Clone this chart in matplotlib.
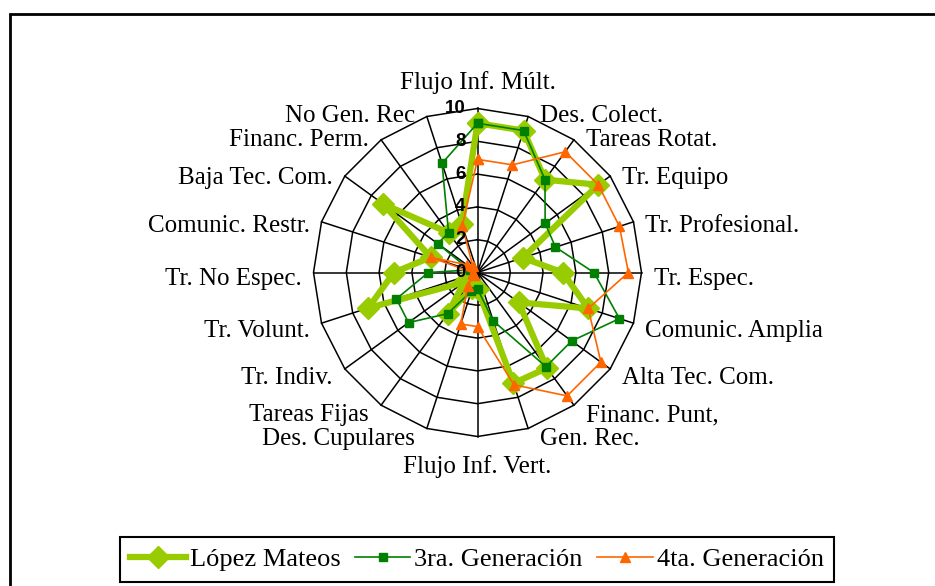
import numpy as np
import matplotlib.pyplot as plt
from matplotlib.patches import Rectangle

# Data (scale 0-10)
categories = ["Flujo Inf. Múlt.", "Des. Colect.", "Tareas Rotat.", "Tr. Equipo",
              "Tr. Profesional.", "Tr. Espec.", "Comunic. Amplia", "Alta Tec. Com.",
              "Financ. Punt,", "Gen. Rec.", "Flujo Inf. Vert.", "Des. Cupulares",
              "Tareas Fijas", "Tr. Indiv.", "Tr. Volunt.", "Tr. No Espec.",
              "Comunic. Restr.", "Baja Tec. Com.", "Financ. Perm.", "No Gen. Rec"]
lopez_mateos = [9.1, 9.1, 7.0, 9.1, 2.9, 5.2, 7.1, 3.1, 7.2, 7.1,
                1.0, 1.0, 3.1, 1.0, 7.0, 5.1, 3.0, 7.1, 3.0, 3.1]
tercera_gen = [9.1, 9.1, 7.0, 5.1, 5.0, 7.1, 9.1, 7.1, 7.1, 3.1,
               1.0, 1.2, 3.1, 5.2, 5.2, 3.0, 0.5, 3.0, 3.0, 7.0]
cuarta_gen = [6.9, 6.9, 9.1, 9.1, 9.1, 9.2, 7.1, 9.3, 9.3, 7.2,
              3.3, 3.3, 1.0, 0.3, 0.3, 0.3, 3.0, 0.8, 0.5, 3.0]
ticks = [0, 2, 4, 6, 8, 10]

plt.rcParams['font.family'] = ['Liberation Serif', 'DejaVu Serif']

fig = plt.figure(figsize=(9.35, 5.86), dpi=100)
ax = fig.add_axes([313.5 / 935, 149.5 / 586, 328 / 935, 328 / 586], projection="polar")
ax.set_theta_zero_location("N")
ax.set_theta_direction(-1)
ax.set_ylim(0, 10)
ax.grid(False)
ax.spines["polar"].set_visible(False)
ax.set_xticks([])
ax.set_yticks([])
ax.patch.set_alpha(0)

angles = np.linspace(0, 2 * np.pi, len(categories), endpoint=False)
closed = np.append(angles, angles[0])


def close(v):
    return list(v) + [v[0]]


# polygon grid
for r in ticks[1:]:
    ax.plot(closed, [r] * len(closed), color="black", lw=1.1, clip_on=False, zorder=1)
for a in angles:
    ax.plot([a, a], [0, 10], color="black", lw=1.1, clip_on=False, zorder=1)

# series
ax.plot(closed, close(lopez_mateos), color="#99CC00", lw=4.5, marker="D", ms=11,
        label="López Mateos", zorder=3, clip_on=False)
ax.plot(closed, close(tercera_gen), color="#008000", lw=1.2, marker="s", ms=5.5,
        label="3ra. Generación", zorder=4, clip_on=False)
ax.plot(closed, close(cuarta_gen), color="#FF6600", lw=1.2, marker="^", ms=6.5,
        label="4ta. Generación", zorder=5, clip_on=False)

# category labels
for a, name in zip(angles, categories):
    s, c = np.sin(a), np.cos(a)
    if abs(s) < 1e-6:
        ax.annotate(name, xy=(a, 10), xytext=(0, 26 if c > 0 else -30),
                    textcoords="offset pixels", ha="center", va="center",
                    fontsize=18, annotation_clip=False)
    else:
        dy = -7 + (8 if c > 0 else 4) * c
        ax.annotate(name, xy=(a, 10), xytext=(12 * np.sign(s), dy),
                    textcoords="offset pixels", ha="left" if s > 0 else "right",
                    va="center", fontsize=18, annotation_clip=False)

# radial tick labels
for t in ticks:
    ax.annotate(str(t), xy=(0, t), xytext=(-12, 0), textcoords="offset pixels",
                ha="right", va="center", fontsize=13.5, fontweight="bold",
                family="Liberation Sans", zorder=10, annotation_clip=False)

leg = fig.legend(loc="center", bbox_to_anchor=(477 / 935, (586 - 559.5) / 586), ncol=3,
                 fontsize=19, fancybox=False, edgecolor="black", framealpha=1,
                 handlelength=2.1, columnspacing=0.55, handletextpad=0.15, borderpad=0.4)
leg.get_frame().set_linewidth(1.5)

# outer chart frame (cut off at right and bottom in the reference)
fig.add_artist(Rectangle((10 / 935, -0.05), 1.0, (586 - 13.5) / 586 + 0.05,
                         transform=fig.transFigure, fill=False, lw=2, edgecolor="black"))

fig.savefig("out.png", dpi=100)
